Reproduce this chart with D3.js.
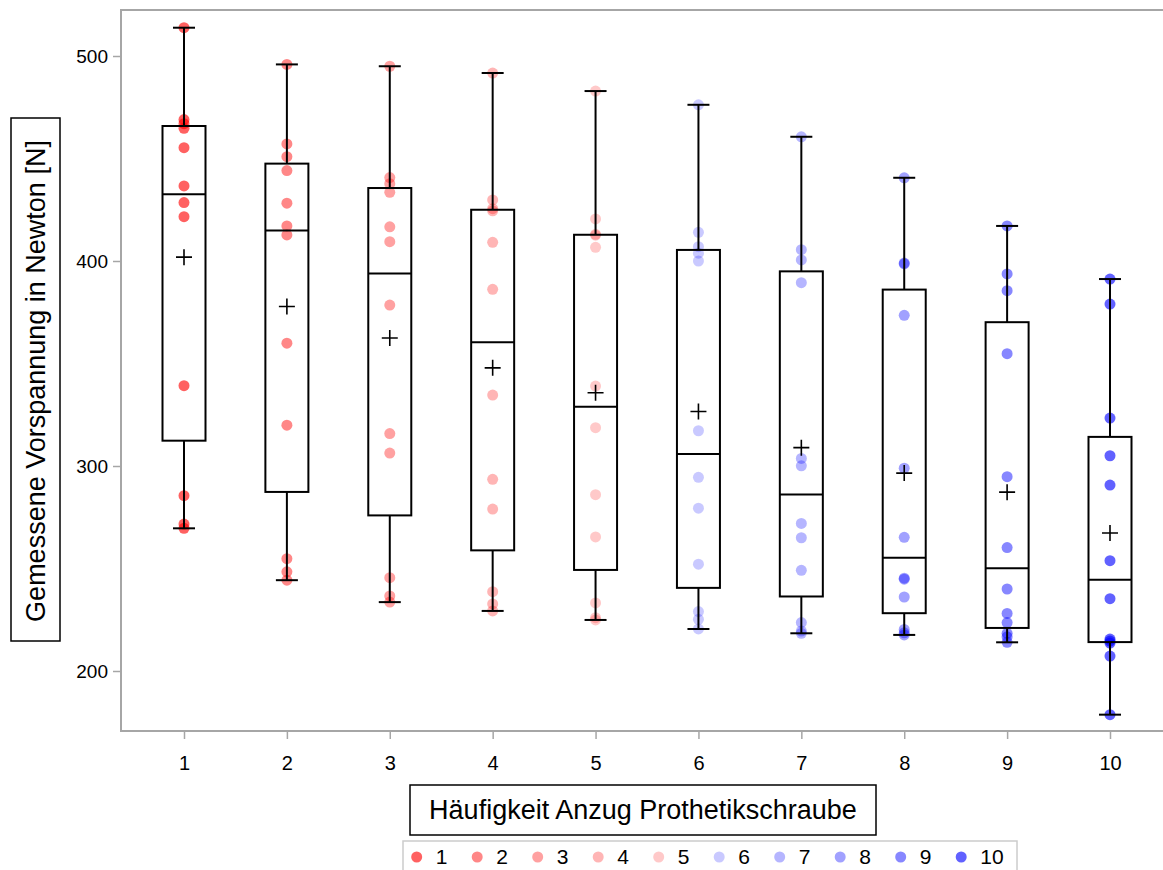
<!DOCTYPE html>
<html>
<head>
<meta charset="utf-8">
<script src="https://cdn.jsdelivr.net/npm/d3@7"></script>
<style>
  body { margin: 0; background: #fff; }
  text { font-family: "Liberation Sans", Arial, sans-serif; }
</style>
</head>
<body>
<div id="chart"></div>
<script>
// Häufigkeit Anzug (categories)
const anzug = ["1", "2", "3", "4", "5", "6", "7", "8", "9", "10"];

// Gemessene Vorspannung [N], 12 Messungen pro Gruppe
const werte1  = [513.8, 469.0, 467.0, 464.7, 455.3, 436.6, 428.5, 421.6, 339.2, 285.5, 271.7, 269.6];
const werte2  = [495.9, 457.1, 450.9, 444.1, 428.2, 417.1, 412.7, 359.9, 319.9, 254.8, 248.4, 244.3];
const werte3  = [495.0, 440.7, 437.7, 433.5, 416.7, 409.4, 378.5, 315.8, 306.3, 245.5, 236.6, 233.6];
const werte4  = [491.7, 429.8, 425.5, 424.5, 409.1, 386.2, 334.6, 293.5, 279.0, 238.7, 232.7, 229.3];
const werte5  = [482.9, 420.5, 413.0, 412.6, 406.7, 339.0, 318.7, 286.0, 265.4, 233.2, 226.0, 224.9];
const werte6  = [476.2, 414.0, 407.0, 403.8, 400.0, 317.2, 294.5, 279.4, 252.1, 229.0, 225.2, 220.5];
const werte7  = [460.6, 405.5, 400.5, 389.4, 303.7, 300.1, 272.0, 265.0, 249.1, 223.6, 219.5, 218.4];
const werte8  = [440.6, 399.0, 398.6, 373.5, 298.9, 265.2, 245.3, 244.8, 236.1, 220.3, 218.6, 217.6];
const werte9  = [417.1, 393.7, 385.5, 354.8, 294.8, 260.2, 240.0, 228.1, 223.6, 218.4, 216.7, 214.0];
const werte10 = [391.2, 379.0, 323.4, 305.0, 290.7, 253.8, 235.3, 215.6, 214.6, 213.6, 207.3, 178.7];
const alleWerte = [werte1, werte2, werte3, werte4, werte5, werte6, werte7, werte8, werte9, werte10];

const yTicks = [200, 300, 400, 500];

// red -> white -> blue, drawn with transparency
const farben = [
  "rgba(255,0,0,0.62)", "rgba(255,0,0,0.47)", "rgba(255,0,0,0.37)", "rgba(255,0,0,0.29)", "rgba(255,0,0,0.21)",
  "rgba(0,0,255,0.21)", "rgba(0,0,255,0.29)", "rgba(0,0,255,0.37)", "rgba(0,0,255,0.47)", "rgba(0,0,255,0.62)"
];

const width = 1163, height = 870;
const plot = {left: 121, right: 1163, top: 10, bottom: 731};

// percentile (average at discontinuities)
function pctl(sorted, p) {
  const n = sorted.length, np = n * p, j = Math.floor(np);
  if (np - j === 0) return (sorted[j - 1] + sorted[j]) / 2;
  return sorted[j];
}

const stats = alleWerte.map((vals, i) => {
  const s = vals.slice().sort(d3.ascending);
  return {
    key: anzug[i],
    min: s[0], max: s[s.length - 1],
    q1: pctl(s, 0.25), med: pctl(s, 0.5), q3: pctl(s, 0.75),
    mean: d3.mean(s)
  };
});

const svg = d3.select('#chart').append('svg')
  .attr('width', width)
  .attr('height', height);

// scales
const x = d3.scalePoint()
  .domain(anzug)
  .range([184, 1110]);
const y = d3.scaleLinear()
  .domain([200, 500])
  .range([671, 56]);

const axisGrey = '#a6a6a6';

// y axis
const yAxis = d3.axisLeft(y)
  .tickValues(yTicks)
  .tickSize(8)
  .tickPadding(5);
const gy = svg.append('g')
  .attr('transform', `translate(${plot.left},0)`)
  .call(yAxis);
gy.select('.domain').remove();
gy.selectAll('line').attr('stroke', axisGrey).attr('stroke-width', 1.5);
gy.selectAll('text').style('font-size', '19px').attr('fill', '#000');

// x axis
const xAxis = d3.axisBottom(x)
  .tickSize(8)
  .tickPadding(17);
const gx = svg.append('g')
  .attr('transform', `translate(0,${plot.bottom})`)
  .call(xAxis);
gx.select('.domain').remove();
gx.selectAll('line').attr('stroke', axisGrey).attr('stroke-width', 1.5);
gx.selectAll('text').style('font-size', '20px').attr('fill', '#000');

// frame (left, top, bottom)
svg.append('path')
  .attr('d', `M${plot.right},${plot.top}H${plot.left}V${plot.bottom}H${plot.right}`)
  .attr('fill', 'none')
  .attr('stroke', axisGrey)
  .attr('stroke-width', 2);

// points
const punkte = [];
alleWerte.forEach((vals, i) => vals.forEach(v => punkte.push({key: anzug[i], i: i, v: v})));

svg.append('g').selectAll('circle')
  .data(punkte)
  .enter().append('circle')
  .attr('cx', d => x(d.key))
  .attr('cy', d => y(d.v))
  .attr('r', 5.5)
  .attr('fill', d => farben[d.i]);

// boxes
const boxW = 43, capW = 22;
const box = svg.append('g').selectAll('g')
  .data(stats)
  .enter().append('g')
  .attr('fill', 'none')
  .attr('stroke', '#000')
  .attr('stroke-width', 2);

box.append('line')
  .attr('x1', d => x(d.key)).attr('x2', d => x(d.key))
  .attr('y1', d => y(d.max)).attr('y2', d => y(d.q3));
box.append('line')
  .attr('x1', d => x(d.key)).attr('x2', d => x(d.key))
  .attr('y1', d => y(d.q1)).attr('y2', d => y(d.min));
box.append('line')
  .attr('x1', d => x(d.key) - capW / 2).attr('x2', d => x(d.key) + capW / 2)
  .attr('y1', d => y(d.max)).attr('y2', d => y(d.max));
box.append('line')
  .attr('x1', d => x(d.key) - capW / 2).attr('x2', d => x(d.key) + capW / 2)
  .attr('y1', d => y(d.min)).attr('y2', d => y(d.min));
box.append('rect')
  .attr('x', d => x(d.key) - boxW / 2)
  .attr('y', d => y(d.q3))
  .attr('width', boxW)
  .attr('height', d => y(d.q1) - y(d.q3));
box.append('line')
  .attr('x1', d => x(d.key) - boxW / 2).attr('x2', d => x(d.key) + boxW / 2)
  .attr('y1', d => y(d.med)).attr('y2', d => y(d.med));
// mean marker "+"
box.append('path')
  .attr('stroke-width', 1.6)
  .attr('d', d => {
    const cx = x(d.key), cy = y(d.mean), h = 8;
    return `M${cx - h},${cy}H${cx + h}M${cx},${cy - h}V${cy + h}`;
  });

// y axis title
svg.append('rect')
  .attr('x', 11).attr('y', 118)
  .attr('width', 49).attr('height', 523)
  .attr('fill', 'none').attr('stroke', '#000').attr('stroke-width', 1.5);
svg.append('text')
  .text('Gemessene Vorspannung in Newton [N]')
  .attr('transform', 'translate(36,381) rotate(-90)')
  .attr('text-anchor', 'middle')
  .attr('dy', '0.35em')
  .style('font-size', '27px');

// x axis title
svg.append('rect')
  .attr('x', 410).attr('y', 785)
  .attr('width', 466).attr('height', 50)
  .attr('fill', 'none').attr('stroke', '#000').attr('stroke-width', 1.5);
svg.append('text')
  .text('Häufigkeit Anzug Prothetikschraube')
  .attr('x', 643).attr('y', 810)
  .attr('text-anchor', 'middle')
  .attr('dy', '0.35em')
  .style('font-size', '27px');

// legend
svg.append('rect')
  .attr('x', 403).attr('y', 841)
  .attr('width', 614).attr('height', 40)
  .attr('fill', 'none').attr('stroke', '#cccccc').attr('stroke-width', 1.5);

const legende = svg.append('g').selectAll('g')
  .data(anzug)
  .enter().append('g')
  .attr('transform', (d, i) => `translate(${416.7 + i * 60.5},857)`);
legende.append('circle')
  .attr('r', 5.5)
  .attr('fill', (d, i) => farben[i]);
legende.append('text')
  .text(d => d)
  .attr('x', 19)
  .attr('dy', '0.35em')
  .style('font-size', '21px');
</script>
</body>
</html>
